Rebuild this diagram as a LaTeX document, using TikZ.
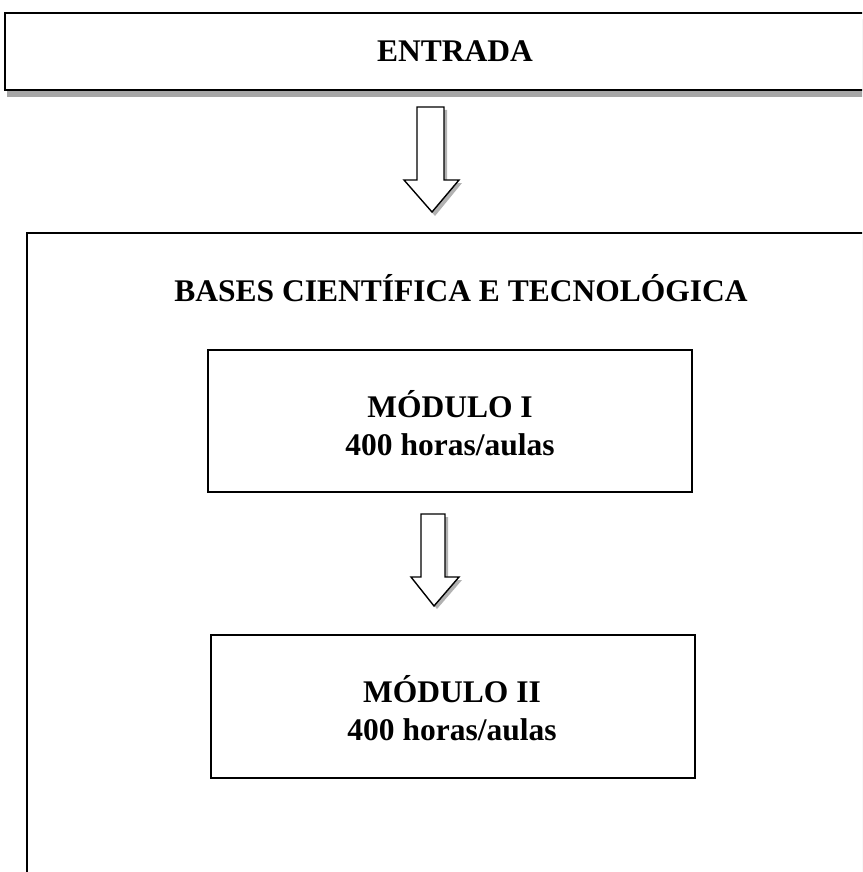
\documentclass[tikz,border=0pt]{standalone}
\usepackage{fontspec}
\setmainfont{Liberation Serif}
\begin{document}
\begin{tikzpicture}[x=1pt,y=-1pt,
  boxline/.style={draw=black,line width=1.8pt,fill=white},
  shadowfill/.style={fill=black!35,draw=none},
  blockarrow/.style={draw=black,line width=1.4pt,fill=white,line join=miter},
  title/.style={font=\bfseries\fontsize{31.5}{36}\selectfont},
  modtext/.style={font=\bfseries\fontsize{31.5}{38}\selectfont,align=center}]
\useasboundingbox (0,0) rectangle (862,872);
\clip (0,0) rectangle (862,872);
% top box
\fill[shadowfill] (7,19) rectangle (880,97);
\draw[boxline] (5,13) rectangle (880,90);
\node[title] (entrada) at (455,51) {ENTRADA};
% arrow 1
\fill[black!30] (420,110) -- (447,110) -- (447,183) -- (462,183) -- (435,216) -- (407,183) -- (420,183) -- cycle;
\draw[blockarrow] (417,107) -- (444,107) -- (444,180) -- (459,180) -- (432,212) -- (404,180) -- (417,180) -- cycle;
% big box
\fill[black!20] (29,235) rectangle (890,900);
\draw[boxline,line width=1.6pt] (27,233) rectangle (888,898);
\node[title] (bases) at (461,288) {BASES CIENTÍFICA E TECNOLÓGICA};
% module I
\draw[boxline] (208,350) rectangle (692,492);
\node[modtext] (m1) at (450,423) {MÓDULO I\\400 horas/aulas};
% arrow 2
\fill[black!30] (424,517) -- (448,517) -- (448,580) -- (462,580) -- (437,609) -- (414,580) -- (424,580) -- cycle;
\draw[blockarrow] (421,514) -- (445,514) -- (445,577) -- (459,577) -- (434,606) -- (411,577) -- (421,577) -- cycle;
% module II
\draw[boxline] (211,635) rectangle (695,778);
\node[modtext] (m2) at (452,708) {MÓDULO II\\400 horas/aulas};
\end{tikzpicture}
\end{document}
